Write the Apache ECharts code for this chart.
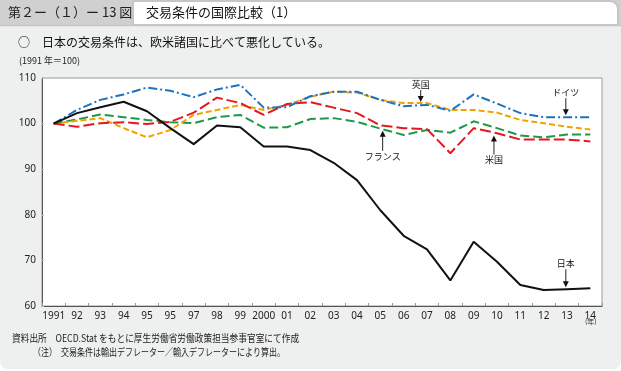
<!DOCTYPE html>
<html><head><meta charset="utf-8">
<script src="https://cdn.jsdelivr.net/npm/echarts@6/dist/echarts.min.js"></script>
<style>html,body{margin:0;padding:0;background:#fff}#c{width:621px;height:371px}</style>
</head><body><div id="c"></div>
<script>
const years = ['1991','92','93','94','95','96','97','98','99','2000','01','02','03','04','05','06','07','08','09','10','11','12','13','14'];
const tickLabels = ['1991','92','93','94','95','95','97','98','99','2000','01','02','03','04','05','06','07','08','09','10','11','12','13','14'];
const yTicks = [60, 70, 80, 90, 100, 110];
const japan   = [100, 102.3, 103.6, 104.8, 102.7, 99.0, 95.5, 99.6, 99.2, 95.0, 95.0, 94.2, 91.4, 87.6, 81.0, 75.4, 72.4, 65.6, 74.1, 69.7, 64.6, 63.5, 63.7, 63.9];
const germany = [100, 103.0, 105.2, 106.4, 107.9, 107.2, 105.8, 107.5, 108.5, 103.5, 103.6, 106.0, 107.0, 107.0, 105.2, 103.8, 104.1, 102.8, 106.4, 104.4, 102.3, 101.4, 101.4, 101.4];
const uk      = [100, 100.6, 101.2, 99.0, 97.0, 98.6, 101.9, 103.0, 104.1, 103.0, 104.1, 105.9, 107.0, 106.8, 105.2, 104.5, 104.5, 103.0, 103.0, 102.4, 100.8, 100.1, 99.3, 98.7];
const usa     = [100, 99.3, 100.1, 100.3, 99.9, 100.4, 102.4, 105.7, 104.5, 101.9, 104.3, 104.7, 103.5, 102.3, 99.6, 99.0, 98.8, 93.5, 99.0, 97.9, 96.5, 96.5, 96.5, 96.1];
const france  = [100, 100.9, 102.0, 101.4, 100.8, 100.3, 100.1, 101.4, 101.9, 99.1, 99.2, 101.0, 101.2, 100.4, 98.9, 97.5, 98.6, 98.0, 100.5, 99.0, 97.4, 97.0, 97.6, 97.6];

const FONT = "'Noto Sans','Noto Sans CJK JP',sans-serif";
const JFONT = "'Noto Sans CJK JP',sans-serif";
const chart = echarts.init(document.getElementById('c'), null, {renderer:'canvas'});

const seriesDefs = [
  {name:'フランス', data: france,  color:'#1e9a46', dash:[9,4]},
  {name:'英国',     data: uk,      color:'#f4a100', dash:[6,3]},
  {name:'米国',     data: usa,     color:'#e6171f', dash:[11,4]},
  {name:'ドイツ',   data: germany, color:'#1f72c0', dash:[9,3,2,3]},
  {name:'日本',     data: japan,   color:'#111111', dash:'solid'}
];

const baseGraphics = [
  {type:'rect', z:-10, shape:{x:0,y:0,width:621,height:369,r:[0,0,8,8]}, style:{fill:'#eeefef'}},
  {type:'rect', z:-9, shape:{x:0,y:0,width:621,height:26}, style:{fill:'#d0d0d0'}},
  {type:'rect', z:-8, shape:{x:133,y:1,width:485,height:24,r:[0,8,0,0]}, style:{fill:'#ffffff', stroke:'#c6c6c6', lineWidth:2}},
  {type:'line', z:-7, shape:{x1:0,y1:25.5,x2:621,y2:25.5}, style:{stroke:'#c6c6c6', lineWidth:1.5}},
  {type:'text', left:8, top:6, style:{text:'第２ー（１）ー 13 図', font:"13px "+JFONT, fill:'#222'}},
  {type:'text', left:146, top:6, style:{text:'交易条件の国際比較（1）', font:"13px "+JFONT, fill:'#111'}},
  {type:'text', left:18, top:36, style:{text:'○　日本の交易条件は、欧米諸国に比べて悪化している。', font:"12px "+JFONT, fill:'#111'}},
  {type:'text', left:19, top:56, style:{text:'(1991 年＝100)', font:"9px "+JFONT, fill:'#222'}},
  {type:'text', left:585, top:318, style:{text:'(年)', font:"7px "+JFONT, fill:'#222'}},
  {type:'text', left:12, top:333, scaleX:0.87, style:{text:'資料出所　OECD.Stat をもとに厚生労働省労働政策担当参事官室にて作成', font:"10px "+JFONT, fill:'#222'}},
  {type:'text', left:33, top:347, scaleX:0.8, style:{text:'（注）　交易条件は輸出デフレーター／輸入デフレーターにより算出。', font:"10px "+JFONT, fill:'#222'}}
];

chart.setOption({
  animation:false,
  backgroundColor:'transparent',
  grid:{left:42, right:19, top:78, bottom:65, show:true, borderColor:'#9a9a9a', borderWidth:1, backgroundColor:'#ffffff'},
  xAxis:{
    type:'category', data:years, boundaryGap:true,
    axisLine:{lineStyle:{color:'#555', width:1}},
    axisTick:{show:true, inside:true, length:3, lineStyle:{color:'#999'}},
    axisLabel:{formatter:(v,i)=>tickLabels[i], color:'#222', fontSize:10, fontFamily:FONT, margin:5, interval:0},
    splitLine:{show:false}
  },
  yAxis:{
    type:'value', min:yTicks[0], max:yTicks[yTicks.length-1], interval:10,
    axisLine:{show:true, lineStyle:{color:'#555', width:1}},
    axisTick:{show:true, inside:true, length:2, lineStyle:{color:'#bbb'}},
    axisLabel:{color:'#222', fontSize:10, fontFamily:FONT, margin:6},
    splitLine:{show:false}
  },
  series: seriesDefs.map(s=>({
    type:'line', name:s.name, data:s.data, symbol:'none', smooth:false,
    lineStyle:{color:s.color, width:2, type:s.dash},
    itemStyle:{color:s.color}
  })),
  graphic: baseGraphics
});

// annotations anchored to series values
const annots = [
  {text:'英国',   data:uk,      pos:15.73, dir:'down', gap:1, len:12},
  {text:'ドイツ', data:germany, pos:21.95, dir:'down', gap:2, len:17},
  {text:'フランス', data:france, pos:14.1, dir:'up',  gap:1.5, len:20},
  {text:'米国',   data:usa,     pos:18.87, dir:'up',  gap:3, len:19},
  {text:'日本',   data:japan,   pos:21.95, dir:'down', gap:2, len:18}
];
function px(i, v){ return chart.convertToPixel({gridIndex:0}, [i, v]); }
const ann = [];
annots.forEach(a=>{
  const i0 = Math.floor(a.pos), f = a.pos - i0;
  const p0 = px(i0, a.data[i0]), p1 = px(i0+1, a.data[i0+1]);
  const x = p0[0] + f*(p1[0]-p0[0]);
  const y = p0[1] + f*(p1[1]-p0[1]);
  const s = a.dir==='down' ? -1 : 1;
  const tipY = y + s*a.gap;
  const tailY = tipY + s*a.len;
  ann.push({type:'line', shape:{x1:x,y1:tipY+s*5,x2:x,y2:tailY}, style:{stroke:'#222', lineWidth:1}, z:100});
  ann.push({type:'polygon', shape:{points:[[x,tipY],[x-3,tipY+s*6],[x+3,tipY+s*6]]}, style:{fill:'#111'}, z:100});
  ann.push({type:'text', x:x, y: a.dir==='down' ? tailY-1 : tailY+1, z:100,
    style:{text:a.text, font:"9px "+JFONT, fill:'#111', align:'center', verticalAlign: a.dir==='down' ? 'bottom':'top'}});
});
chart.setOption({graphic: baseGraphics.concat(ann)});
</script></body></html>
